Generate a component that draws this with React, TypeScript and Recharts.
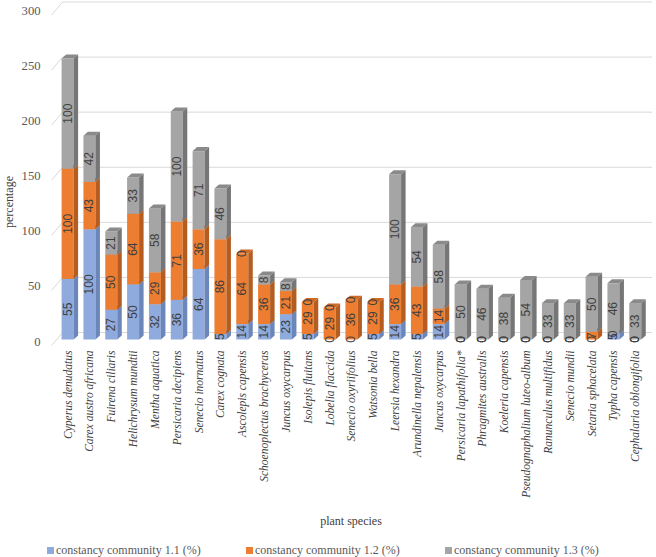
import React from "react";
import { BarChart, Bar, XAxis, YAxis, CartesianGrid, Legend, LabelList, Label } from "recharts";

const categories = [
  "Cyperus denudatus",
  "Carex austro africana",
  "Fuirena ciliaris",
  "Helichrysum mundtii",
  "Mentha aquatica",
  "Persicaria decipiens",
  "Senecio inornatus",
  "Carex cognata",
  "Ascolepis capensis",
  "Schoenoplectus brachyceras",
  "Juncus oxycarpus",
  "Isolepis fluitans",
  "Lobelia flaccida",
  "Senecio oxyriifolius",
  "Watsonia bella",
  "Leersia hexandra",
  "Arundinella nepalensis",
  "Juncus oxycarpus",
  "Persicaria lapathifolia*",
  "Phragmites australis",
  "Koeleria capensis",
  "Pseudognaphalium luteo-album",
  "Ranunculus multifidus",
  "Senecio mundii",
  "Setaria sphacelata",
  "Typha capensis",
  "Cephalaria oblongifolia",
];

const community11 = [55, 100, 27, 50, 32, 36, 64, 5, 14, 14, 23, 5, 0, 0, 5, 14, 5, 14, 0, 0, 0, 0, 0, 0, 0, 5, 0];
const community12 = [100, 43, 50, 64, 29, 71, 36, 86, 64, 36, 21, 29, 29, 36, 29, 36, 43, 14, 0, 0, 0, 0, 0, 0, 7, 0, 0];
const community13 = [100, 42, 21, 33, 58, 100, 71, 46, 0, 8, 8, 0, 0, 0, 0, 100, 54, 58, 50, 46, 38, 54, 33, 33, 50, 46, 33];

const yTicks = [0, 50, 100, 150, 200, 250, 300];

const seriesNames = [
  "constancy community 1.1 (%)",
  "constancy community 1.2 (%)",
  "constancy community 1.3 (%)",
];

const data = categories.map((name, i) => ({
  name,
  c11: community11[i],
  c12: community12[i],
  c13: community13[i],
}));

const palettes = [
  { front: "#8faadc", side: "#6b86b8", top: "#7d97c9" },
  { front: "#ed7d31", side: "#b55d20", top: "#cf6926" },
  { front: "#a5a5a5", side: "#767676", top: "#8a8a8a" },
];

const DX = 4.5;
const DY = 4;

const make3D = (pal: { front: string; side: string; top: string }) => (props: any) => {
  const { x, y, width, height } = props;
  if (x == null || y == null || !height || height <= 0) return <g />;
  const w = width;
  const h = height;
  return (
    <g>
      <rect x={x} y={y} width={w} height={h} fill={pal.front} />
      <path
        d={`M${x + w},${y} L${x + w + DX},${y - DY} L${x + w + DX},${y + h - DY} L${x + w},${y + h} Z`}
        fill={pal.side}
      />
      <path
        d={`M${x},${y} L${x + DX},${y - DY} L${x + w + DX},${y - DY} L${x + w},${y} Z`}
        fill={pal.top}
      />
    </g>
  );
};

const valueLabel = (props: any) => {
  const vb = props.viewBox || {};
  const x = props.x ?? vb.x;
  const y = props.y ?? vb.y;
  const width = props.width ?? vb.width;
  const height = props.height ?? vb.height;
  if (x == null || y == null) return null;
  const cx = x + width / 2;
  const cy = y + height / 2;
  return (
    <text
      x={cx}
      y={cy}
      transform={`rotate(-90, ${cx}, ${cy})`}
      textAnchor="middle"
      dominantBaseline="central"
      fontFamily="Liberation Sans, Arial, sans-serif"
      fontSize={12}
      fill="#404040"
    >
      {props.value}
    </text>
  );
};

const gridLine = (props: any) => {
  const { x1, x2, y1 } = props;
  return (
    <path
      key={props.key ?? `g-${y1}`}
      d={`M${x1 - 5},${y1 + 6} L${x1 + 6},${y1 - 7} L${x2 + 6},${y1 - 7}`}
      stroke="#d9d9d9"
      strokeWidth={1}
      fill="none"
    />
  );
};

const XTick = (props: any) => {
  const { x, y, payload } = props;
  const tx = x + 4;
  const ty = y + 3;
  return (
    <text
      x={tx}
      y={ty}
      transform={`rotate(-90, ${tx}, ${ty})`}
      textAnchor="end"
      fontFamily="Liberation Serif, Times New Roman, serif"
      fontStyle="italic"
      fontSize={11.5}
      fill="#404040"
    >
      {payload.value}
    </text>
  );
};

const YTick = (props: any) => {
  const { x, y, payload } = props;
  return (
    <text
      x={x}
      y={y + 2}
      textAnchor="end"
      dominantBaseline="central"
      fontFamily="Liberation Serif, Times New Roman, serif"
      fontSize={12.7}
      fill="#595959"
    >
      {payload.value}
    </text>
  );
};

const legendOffsets = [47, 246, 445];

const LegendContent = () => (
  <div style={{ position: "relative", width: 656, height: 17 }}>
    {seriesNames.map((n, i) => (
      <div
        key={n}
        style={{
          position: "absolute",
          left: legendOffsets[i],
          top: 3,
          display: "flex",
          alignItems: "center",
          fontFamily: "Liberation Serif, Times New Roman, serif",
          fontSize: 12,
          color: "#595959",
          whiteSpace: "nowrap",
          lineHeight: "14px",
        }}
      >
        <span
          style={{
            display: "inline-block",
            width: 7,
            height: 7,
            background: palettes[i].front,
            marginRight: 2,
          }}
        />
        {n}
      </div>
    ))}
  </div>
);

export default function App() {
  return (
    <div style={{ position: "absolute", left: 0, top: 0, width: 656, height: 557, background: "#fff" }}>
      <BarChart
        width={656}
        height={557}
        data={data}
        margin={{ top: 9, right: 9.9, left: 0, bottom: 0 }}
        barSize={12}
      >
        <CartesianGrid vertical={false} horizontal={gridLine} />
        <XAxis
          dataKey="name"
          interval={0}
          tickLine={false}
          axisLine={false}
          height={200.5}
          tick={<XTick />}
        >
          <Label
            content={() => (
              <text
                x={351}
                y={521}
                textAnchor="middle"
                dominantBaseline="central"
                fontFamily="Liberation Serif, Times New Roman, serif"
                fontSize={12}
                fill="#404040"
              >
                plant species
              </text>
            )}
          />
        </XAxis>
        <YAxis
          width={56.6}
          domain={[0, 300]}
          ticks={yTicks}
          tickLine={false}
          axisLine={false}
          tickMargin={10}
          tick={<YTick />}
        >
          <Label
            content={() => (
              <text
                x={9}
                y={202}
                transform="rotate(-90, 9, 202)"
                textAnchor="middle"
                dominantBaseline="central"
                fontFamily="Liberation Serif, Times New Roman, serif"
                fontSize={12}
                fill="#404040"
              >
                percentage
              </text>
            )}
          />
        </YAxis>
        <Legend verticalAlign="bottom" height={17} content={<LegendContent />} wrapperStyle={{ left: 0, width: 656 }} />
        <Bar dataKey="c11" name={seriesNames[0]} stackId="a" fill={palettes[0].front} shape={make3D(palettes[0])} isAnimationActive={false}>
          <LabelList dataKey="c11" content={valueLabel} />
        </Bar>
        <Bar dataKey="c12" name={seriesNames[1]} stackId="a" fill={palettes[1].front} shape={make3D(palettes[1])} isAnimationActive={false}>
          <LabelList dataKey="c12" content={valueLabel} />
        </Bar>
        <Bar dataKey="c13" name={seriesNames[2]} stackId="a" fill={palettes[2].front} shape={make3D(palettes[2])} isAnimationActive={false}>
          <LabelList dataKey="c13" content={valueLabel} />
        </Bar>
      </BarChart>
    </div>
  );
}
